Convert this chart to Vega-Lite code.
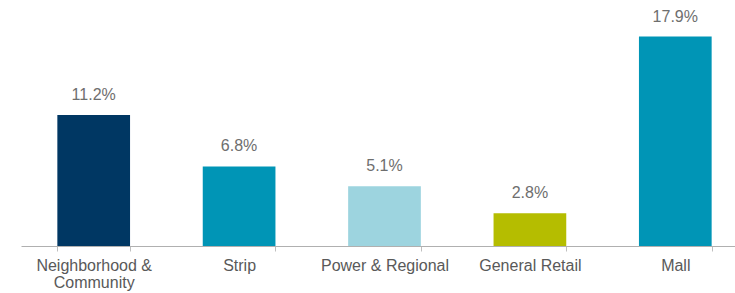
{
  "$schema": "https://vega.github.io/schema/vega-lite/v6.json",
  "autosize": {"type": "none"},
  "padding": {"left": 21, "top": 12, "right": 0, "bottom": 47},
  "width": 727,
  "height": 234,
  "background": "white",
  "data": {
    "values": [
      {"type": "Neighborhood & Community", "value": 11.2},
      {"type": "Strip", "value": 6.8},
      {"type": "Power & Regional", "value": 5.1},
      {"type": "General Retail", "value": 2.8},
      {"type": "Mall", "value": 17.9}
    ]
  },
  "config": {"view": {"stroke": null}, "font": "Liberation Sans"},
  "encoding": {
    "x": {
      "field": "type",
      "type": "nominal",
      "sort": null,
      "scale": {"paddingInner": 0.5, "paddingOuter": 0.25},
      "axis": {
        "title": null,
        "labelAngle": 0,
        "tickBand": "extent",
        "tickSize": 5,
        "tickColor": "#bfbfbf",
        "domainColor": "#b0b0b0",
        "labelFont": "Liberation Sans",
        "labelFontSize": 16,
        "labelColor": "#595959",
        "labelPadding": 6,
        "labelLineHeight": 17,
        "labelBaseline": "top",
        "labelExpr": "datum.label == 'Neighborhood & Community' ? ['Neighborhood &', 'Community'] : datum.label"
      }
    },
    "y": {
      "field": "value",
      "type": "quantitative",
      "scale": {"domain": [0, 20], "nice": false},
      "axis": null
    }
  },
  "layer": [
    {
      "mark": {"type": "bar"},
      "encoding": {
        "color": {
          "field": "type",
          "type": "nominal",
          "legend": null,
          "scale": {
            "domain": ["Neighborhood & Community", "Strip", "Power & Regional", "General Retail", "Mall"],
            "range": ["#003763", "#0095B6", "#9DD4DF", "#B5BD00", "#0095B6"]
          }
        }
      }
    },
    {
      "transform": [{"calculate": "format(datum.value, '.1f') + '%'", "as": "label"}],
      "mark": {"type": "text", "baseline": "bottom", "dy": -12, "fontSize": 16, "color": "#6e6e6e", "font": "Liberation Sans"},
      "encoding": {
        "text": {"field": "label", "type": "nominal"}
      }
    }
  ]
}
